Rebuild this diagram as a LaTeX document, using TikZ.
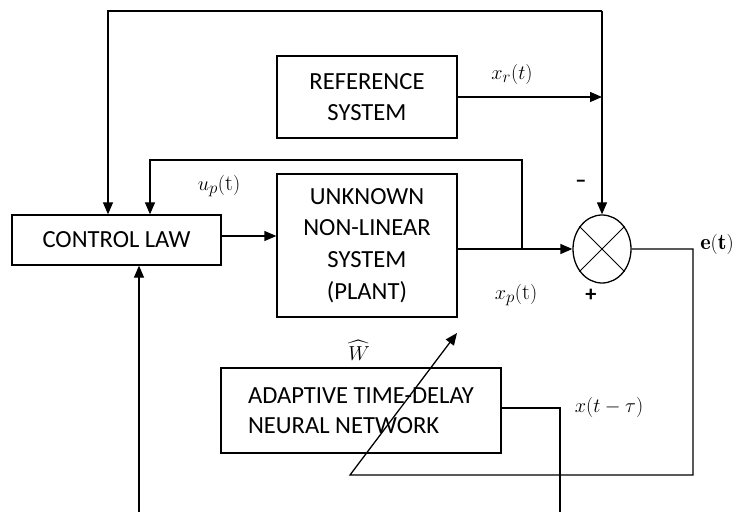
\documentclass[tikz,border=0pt]{standalone}
\usepackage{amsmath}
\usepackage{fontspec}
\newfontfamily\boxfont{Carlito}
\usetikzlibrary{arrows.meta,shapes.geometric,calc}
\tikzset{
  blk/.style={draw,line width=1.1pt,align=center,font=\boxfont\fontsize{21}{26}\selectfont},
  sumj/.style={draw,ellipse,line width=1.1pt,minimum width=1.74cm,minimum height=2.04cm,inner sep=0pt},
  wire/.style={line width=1.1pt},
  arr/.style={wire,-{Triangle[length=3.6mm,width=3mm]}},
  lbl/.style={inner sep=1pt,font=\fontsize{19}{22}\selectfont},
  sgn/.style={inner sep=1pt,font=\boxfont\bfseries\fontsize{19}{20}\selectfont},
}
\begin{document}
\begin{tikzpicture}[x=0.03cm,y=-0.03cm]
    \useasboundingbox (0,0) rectangle (737,512);
    % --- blocks ---
    \node[blk,minimum width=6.27cm,minimum height=1.5cm] (law) at (116.5,240) {CONTROL LAW};
    \node[blk,minimum width=5.4cm,minimum height=2.46cm] (ref) at (367,97) {REFERENCE\\SYSTEM};
    \node[blk,font=\boxfont\fontsize{21}{27}\selectfont,minimum width=5.4cm,minimum height=4.29cm] (plant) at (367,245.5) {UNKNOWN\\NON-LINEAR\\SYSTEM\\(PLANT)};
    \node[sumj] (sum) at (602,249) {};
    \draw[line width=0.8pt] (sum.45) -- (sum.225) (sum.135) -- (sum.315);
    \node[blk,align=left,minimum width=8.4cm,minimum height=2.55cm] (nn) at (361,410.5) {ADAPTIVE TIME-DELAY\\NEURAL NETWORK};
    % --- reference signal, to the junction and over the top ---
    \coordinate (tr) at (602,11);
    \coordinate (tl) at (108,11);
    \draw[arr] (tr) -- (sum.north);
    \draw[arr] (tr) -- (tl) -- (law.north -| tl);
    \draw[arr] (ref.east) -- (ref.east -| tr);
    \node[lbl] (xr) at (512,74) {$x_r(t)$};
    % --- control input and plant output ---
    \coordinate (u) at (250,236);
    \draw[arr] (law.east |- u) -- (plant.west |- u);
    \node[lbl] (up) at (219,186) {$u_p(\mathrm{t})$};
    \coordinate (br) at (522,249);
    \coordinate (fb) at (150,160);
    \draw[arr] (plant.east |- sum) -- (sum.west);
    \draw[arr] (br) -- (br |- fb) -- (fb) -- (law.north -| fb);
    \node[lbl] (xp) at (516,295) {$x_p(\mathrm{t})$};
    \node[sgn] (minus) at (581,184) {\textendash};
    \node[sgn] (plus) at (591,295) {+};
    % --- error to the network weights ---
    \coordinate (ec) at (693,249);
    \coordinate (eb) at (693,475);
    \coordinate (wb) at (350,475);
    \coordinate (wt) at (457,333);
    \draw[arr] (sum.east) -- (ec) -- (eb) -- (wb) -- (wt);
    \node[lbl] (e) at (717,244) {$\mathbf{e(t)}$};
    \node[lbl] (w) at (359,350) {$\widehat{W}$};
    % --- delayed state and network output ---
    \coordinate (d) at (560,408);
    \coordinate (db) at (560,512);
    \draw[wire] (nn.east |- d) -- (d) -- (db);
    \node[lbl] (xd) at (609,407) {$x(t-\tau)$};
    \coordinate (lb) at (139,512);
    \draw[arr] (lb) -- (law.south -| lb);
  \end{tikzpicture}
\end{document}
